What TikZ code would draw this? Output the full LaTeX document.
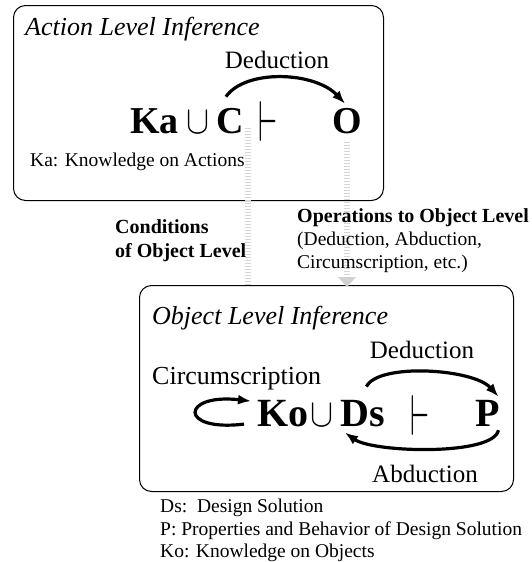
\RequirePackage{fix-cm}
\documentclass[tikz,border=0pt]{standalone}
\usepackage{fontspec}
\setmainfont{Liberation Serif}
\usetikzlibrary{arrows.meta}

% operator glyphs at the size of the bold terms
\newcommand{\bigcupsym}{\resizebox{23pt}{22pt}{$\cup$}}
\newcommand{\bigturnstile}{\raisebox{-9pt}{\resizebox{19pt}{40pt}{$\vdash$}}}

\begin{document}
\begin{tikzpicture}[x=1pt,y=-1pt,
  levelbox/.style={draw, line width=1pt, rounded corners=12pt, inner sep=0pt},
  title/.style={font=\fontsize{26}{30}\selectfont\itshape, anchor=base west, inner sep=0pt},
  rulename/.style={font=\fontsize{25}{30}\selectfont, anchor=base, inner sep=0pt},
  term/.style={font=\fontsize{38}{44}\selectfont\bfseries, anchor=base west, inner sep=0pt},
  lowterm/.style={term, font=\fontsize{40}{46}\selectfont\bfseries},
  opsym/.style={anchor=base, inner sep=0pt},
  note/.style={font=\fontsize{19.5}{23}\selectfont, anchor=base west, inner sep=0pt},
  boldnote/.style={font=\fontsize{20}{24}\selectfont\bfseries, anchor=base west, inner sep=0pt, align=left},
  infer/.style={line width=3.2pt, -{Latex[length=13pt,width=10pt]}},
  halftone/.style={draw=black!16, line width=6pt, dash pattern=on 1pt off 2pt},
]
\useasboundingbox (0,0) rectangle (531,562);

% the two inference levels
\node[levelbox, minimum width=370pt, minimum height=195pt, anchor=north west] (act) at (13,5) {};
\node[levelbox, minimum width=374pt, minimum height=206pt, anchor=north west] (obj) at (139,285) {};

% action level
\node[title] (actT) at (25,35) {Action Level Inference};
\node[rulename] (dedA) at (277,68) {Deduction};
\node[term] (Ka) at (130,133) {Ka};
\node[opsym] (cupA) at (198,133) {\bigcupsym};
\node[term] (C) at (216,133) {C};
\node[opsym] (vdA) at (268,133) {\bigturnstile};
\node[term] (O) at (332,133) {O};
\node[note] (kaN) at (30,166) {Ka: Knowledge on Actions};
\draw[infer] ([shift={(-4,-11)}]C.north) .. controls +(20,-28) and +(-30,-32) .. ([shift={(-2,-4)}]O.north);

% object level
\node[title] (objT) at (152,324) {Object Level Inference};
\node[rulename] (dedO) at (422,358) {Deduction};
\node[rulename, anchor=base west, font=\fontsize{26}{30}\selectfont] (circ) at (152,384) {Circumscription};
\node[lowterm] (Ko) at (257,426) {Ko};
\node[opsym] (cupO) at (322,426) {\bigcupsym};
\node[lowterm] (Ds) at (340,426) {Ds};
\node[opsym] (vdO) at (420,426) {\bigturnstile};
\node[lowterm] (P) at (475,426) {P};
\node[rulename] (abd) at (425,482) {Abduction};
\draw[infer] ([shift={(-13,11)}]Ko.west) .. controls +(-66,8) and +(-70,-8) .. ([shift={(-6,-12)}]Ko.west);
\draw[infer] ([shift={(4,-13)}]Ds.north) .. controls +(12,-24) and +(-25,-28) .. ([shift={(11,-3)}]P.north);
\draw[infer] ([shift={(11,4)}]P.south) .. controls +(-5,26) and +(28,20) .. ([shift={(5,6)}]Ds.south west);

% links between the levels
\draw[halftone] ([shift={(18,-6)}]C.south) -- ([xshift=18pt]C.south |- obj.north);
\draw[halftone] ([yshift=-8pt]O.south) -- ([yshift=4pt]O.south |- obj.north);
\fill[black!18] ([shift={(-9,-8)}]O.south |- obj.north) -- ([shift={(9,-8)}]O.south |- obj.north) -- ([shift={(0,2)}]O.south |- obj.north) -- cycle;

\node[boldnote] (cond) at (115,257) {Conditions\\of Object Level};
\node[boldnote] (ops) at (297,222) {Operations to Object Level};
\node[note, align=left] (opsList) at (297,268) {(Deduction, Abduction,\\Circumscription, etc.)};

% legend
\node[note] (dsN) at (160,512) {Ds:\ \ Design Solution};
\node[note] (pN) at (160,535) {P: Properties and Behavior of Design Solution};
\node[note] (koN) at (160,557) {Ko: Knowledge on Objects};
\end{tikzpicture}
\end{document}
